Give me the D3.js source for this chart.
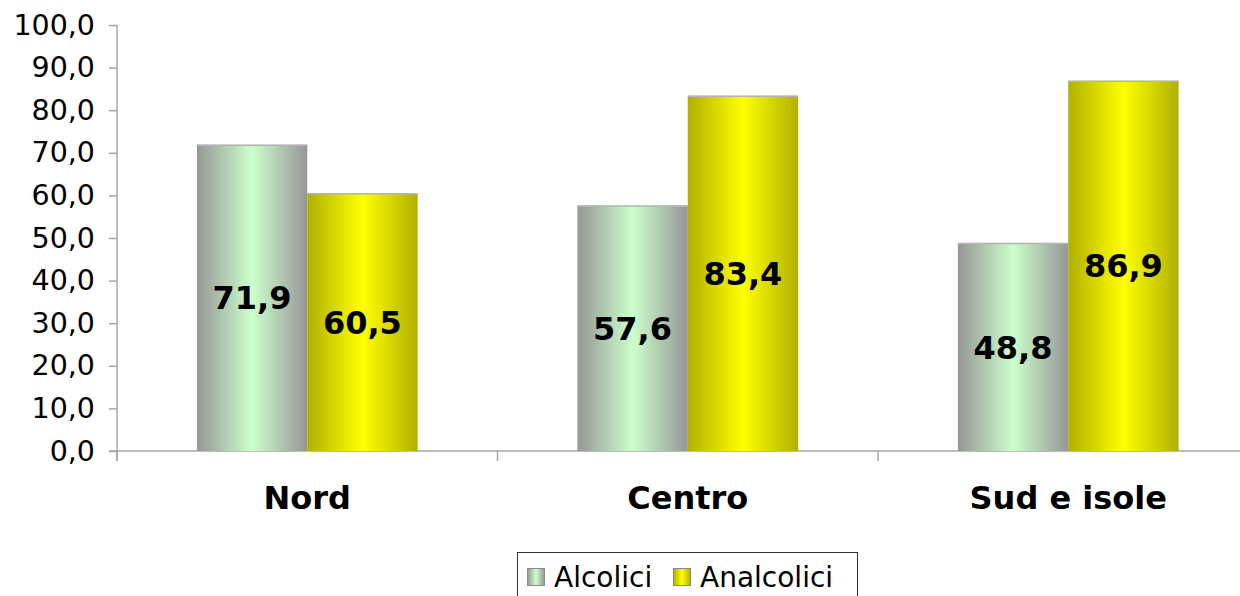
<!DOCTYPE html>
<html>
<head>
<meta charset="utf-8">
<script src="https://cdn.jsdelivr.net/npm/d3@7"></script>
<style>
  body { margin: 0; background: #fff; }
  svg { display: block; font-family: "DejaVu Sans", Verdana, sans-serif; }
</style>
</head>
<body>
<div id="chart"></div>
<script>
var categories = ["Nord", "Centro", "Sud e isole"];
var seriesNames = ["Alcolici", "Analcolici"];
var alcolici = [71.9, 57.6, 48.8];
var analcolici = [60.5, 83.4, 86.9];
var yTicks = [0, 10, 20, 30, 40, 50, 60, 70, 80, 90, 100];

var W = 1240, H = 596;
var margin = {top: 25, left: 117};
var plotBottom = 451;
var step = 380.5;

var svg = d3.select("#chart").append("svg")
  .attr("width", W)
  .attr("height", H);

// gradients for the cylinder look
var defs = svg.append("defs");
var grads = [
  {id: "gAlc", edge: "#969696", mid: "#ccffcc"},
  {id: "gAna", edge: "#b0b000", mid: "#ffff00"}
];
grads.forEach(function(g) {
  var lg = defs.append("linearGradient").attr("id", g.id)
    .attr("x1", "0%").attr("x2", "100%").attr("y1", "0%").attr("y2", "0%");
  lg.append("stop").attr("offset", "0%").attr("stop-color", g.edge);
  lg.append("stop").attr("offset", "50%").attr("stop-color", g.mid);
  lg.append("stop").attr("offset", "100%").attr("stop-color", g.edge);
});

var y = d3.scaleLinear().domain([0, 100]).range([plotBottom, margin.top]);

var x0 = d3.scaleBand()
  .domain(categories)
  .range([margin.left, margin.left + step * categories.length])
  .paddingInner(0.42)
  .paddingOuter(0.21);

var x1 = d3.scaleBand()
  .domain(seriesNames)
  .range([0, x0.bandwidth()]);

var fmt = function(v) { return d3.format(".1f")(v).replace(".", ","); };

// y axis
var yAxis = d3.axisLeft(y)
  .tickValues(yTicks)
  .tickFormat(fmt)
  .tickSize(8)
  .tickPadding(14);

var yG = svg.append("g")
  .attr("transform", "translate(" + margin.left + ",0)")
  .call(yAxis);
yG.select(".domain").remove();
yG.append("line")
  .attr("x1", 0).attr("x2", 0)
  .attr("y1", margin.top).attr("y2", plotBottom + 10)
  .attr("stroke", "#a6a6a6").attr("stroke-width", 1.5);
yG.selectAll(".tick line").attr("stroke", "#a6a6a6").attr("stroke-width", 1.5);
yG.selectAll(".tick text")
  .attr("font-size", 28.5)
  .attr("fill", "#000")
  .attr("font-family", "DejaVu Sans, Verdana, sans-serif");

// x axis line and category ticks
svg.append("line")
  .attr("x1", margin.left - 8).attr("x2", W)
  .attr("y1", plotBottom).attr("y2", plotBottom)
  .attr("stroke", "#a6a6a6").attr("stroke-width", 1.5);

svg.selectAll(".cat-tick")
  .data(d3.range(categories.length + 1))
  .enter().append("line")
  .attr("class", "cat-tick")
  .attr("x1", function(i) { return margin.left + i * step; })
  .attr("x2", function(i) { return margin.left + i * step; })
  .attr("y1", plotBottom).attr("y2", plotBottom + 10)
  .attr("stroke", "#a6a6a6").attr("stroke-width", 1.5);

svg.selectAll(".cat-label")
  .data(categories)
  .enter().append("text")
  .attr("class", "cat-label")
  .attr("x", function(d) { return x0(d) + x0.bandwidth() / 2; })
  .attr("y", 509)
  .attr("text-anchor", "middle")
  .attr("font-size", 32)
  .attr("font-weight", "bold")
  .text(function(d) { return d; });

// bars
var rows = categories.map(function(c, i) {
  return [
    {cat: c, series: seriesNames[0], value: alcolici[i], fill: "url(#gAlc)"},
    {cat: c, series: seriesNames[1], value: analcolici[i], fill: "url(#gAna)"}
  ];
});

var group = svg.selectAll(".cat")
  .data(rows)
  .enter().append("g")
  .attr("class", "cat")
  .attr("transform", function(d) { return "translate(" + x0(d[0].cat) + ",0)"; });

var bar = group.selectAll(".bar")
  .data(function(d) { return d; })
  .enter().append("g")
  .attr("class", "bar");

bar.append("rect")
  .attr("x", function(d) { return x1(d.series); })
  .attr("y", function(d) { return y(d.value); })
  .attr("width", x1.bandwidth())
  .attr("height", function(d) { return plotBottom - y(d.value); })
  .attr("fill", function(d) { return d.fill; });

// thin light rim on top of each bar
bar.append("line")
  .attr("x1", function(d) { return x1(d.series); })
  .attr("x2", function(d) { return x1(d.series) + x1.bandwidth(); })
  .attr("y1", function(d) { return y(d.value) + 0.5; })
  .attr("y2", function(d) { return y(d.value) + 0.5; })
  .attr("stroke", "#b4b4b4").attr("stroke-width", 1.5);

bar.append("text")
  .attr("x", function(d) { return x1(d.series) + x1.bandwidth() / 2; })
  .attr("y", function(d) { return y(d.value / 2); })
  .attr("dy", "0.36em")
  .attr("text-anchor", "middle")
  .attr("font-size", 32)
  .attr("font-weight", "bold")
  .text(function(d) { return fmt(d.value); });

// legend
var legend = svg.append("g").attr("transform", "translate(517,552)");
legend.append("rect")
  .attr("x", 0.5).attr("y", 0.5)
  .attr("width", 340).attr("height", 50)
  .attr("fill", "#fff")
  .attr("stroke", "#333").attr("stroke-width", 1);

var legendItems = [
  {name: seriesNames[0], fill: "url(#gAlc)", x: 10},
  {name: seriesNames[1], fill: "url(#gAna)", x: 156}
];
var li = legend.selectAll(".li")
  .data(legendItems)
  .enter().append("g")
  .attr("class", "li")
  .attr("transform", function(d) { return "translate(" + d.x + ",0)"; });
li.append("rect")
  .attr("x", 0.5).attr("y", 16.5)
  .attr("width", 17).attr("height", 17)
  .attr("fill", function(d) { return d.fill; })
  .attr("stroke", "#888").attr("stroke-width", 1);
li.append("text")
  .attr("x", 27).attr("y", 35)
  .attr("font-size", 28)
  .text(function(d) { return d.name; });
</script>
</body>
</html>
